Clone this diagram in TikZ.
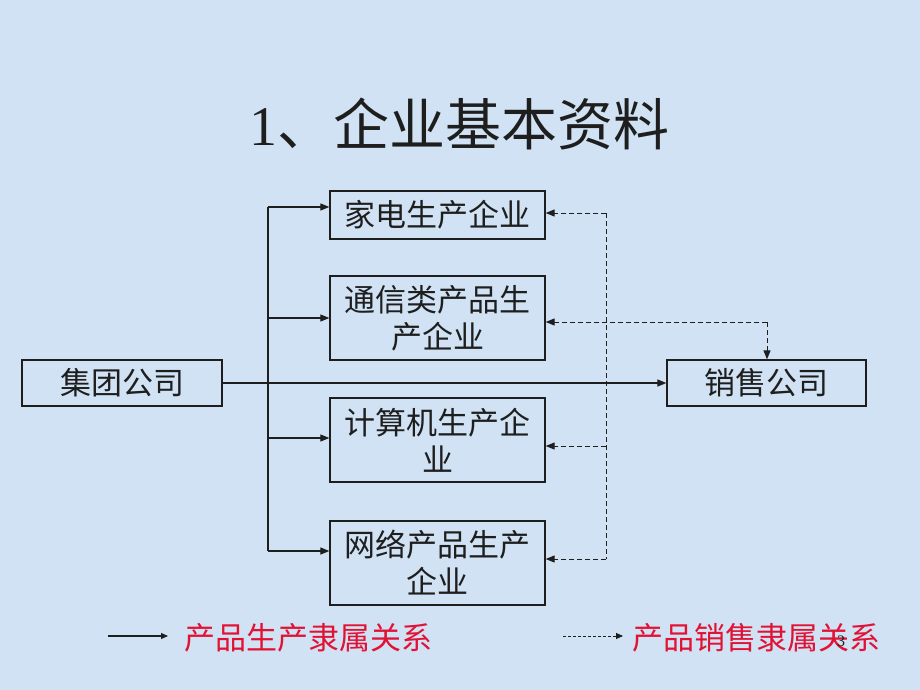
\documentclass[tikz,border=0pt]{standalone}
\usepackage{fontspec}
\usetikzlibrary{arrows.meta}
\newfontfamily\cjk{Noto Sans CJK SC}
\newfontfamily\serifnum{Liberation Serif}
\definecolor{bg}{RGB}{208,226,243}
\definecolor{legred}{RGB}{226,18,52}
\definecolor{ink}{RGB}{30,30,30}
\tikzset{
  box/.style={draw=ink, line width=1.3pt, rectangle, minimum width=215, inner sep=0pt,
    align=center, font=\cjk\fontsize{31}{37}\selectfont, text=ink},
  arr/.style={draw=ink, line width=1.1pt, -{Triangle[length=9pt,width=7pt]}},
  plain/.style={draw=ink, line width=1.1pt},
  darr/.style={draw=ink, line width=1.0pt, dash pattern=on 5pt off 3pt, -{Triangle[length=9pt,width=7pt]}},
  dplain/.style={draw=ink, line width=1.0pt, dash pattern=on 5pt off 3pt},
  legend/.style={anchor=west, inner sep=0pt, text=legred, font=\cjk\fontsize{31}{34}\selectfont}
}
\begin{document}
\begin{tikzpicture}[x=1pt,y=-1pt]
\fill[bg] (0,0) rectangle (920,690);
\useasboundingbox (0,0) rectangle (920,690);
% title
\node[inner sep=0pt, text=ink] (title) at (459,124) {\fontsize{56}{60}\selectfont\serifnum 1\cjk 、企业基本资料};
% boxes
\node[box, minimum height=48] (jd) at (437.5,215) {家电生产企业};
\node[box, minimum height=84] (tx) at (437.5,318) {通信类产品生\\产企业};
\node[box, minimum height=84] (js) at (437.5,440) {计算机生产企\\业};
\node[box, minimum height=84] (wl) at (437.5,563) {网络产品生产\\企业};
\node[box, minimum width=200, minimum height=46] (jt) at (122,383) {集团公司};
\node[box, minimum width=199, minimum height=46] (xs) at (766.5,383) {销售公司};
% solid trunk
\coordinate (t1) at (268,207);
\coordinate (t2) at (268,318);
\coordinate (t3) at (268,438);
\coordinate (t4) at (268,551);
\draw[plain] (t1) -- (t4);
\draw[arr] (t1) -- (jd.west |- t1);
\draw[arr] (t2) -- (tx.west |- t2);
\draw[arr] (t3) -- (js.west |- t3);
\draw[arr] (t4) -- (wl.west |- t4);
\draw[arr] (jt) -- (xs);
% dashed trunk
\coordinate (d1) at (606,213);
\coordinate (d2) at (606,322);
\coordinate (d3) at (606,446);
\coordinate (d4) at (606,559);
\coordinate (dc) at (767,322);
\draw[dplain] (d1) -- (d4);
\draw[darr] (d1) -- (jd.east |- d1);
\draw[darr] (dc) -- (tx.east |- dc);
\draw[darr] (d3) -- (js.east |- d3);
\draw[darr] (d4) -- (wl.east |- d4);
\draw[darr] (dc) -- (xs.north -| dc);
% legend
\coordinate (la) at (108,636);
\coordinate (lb) at (168,636);
\draw[arr, -{Triangle[length=7pt,width=6pt]}] (la) -- (lb);
\node[legend] (lt1) at (184,638) {产品生产隶属关系};
\coordinate (lc) at (563,636);
\coordinate (ld) at (623,636);
\draw[darr, line width=0.9pt, dash pattern=on 3pt off 2pt, -{Triangle[length=7pt,width=6pt]}] (lc) -- (ld);
\node[legend] (lt2) at (632,638) {产品销售隶属关系};
% page number
\node[inner sep=0pt, text=ink, font=\serifnum\fontsize{16}{18}\selectfont] (pg) at (841,641) {3};
\end{tikzpicture}
\end{document}
